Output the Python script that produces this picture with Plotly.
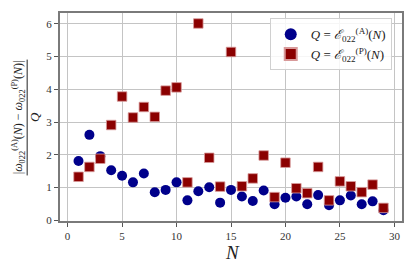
import plotly.graph_objects as go

# ─────────────────────────────────────────────
# 数据：N = 1..29
# ─────────────────────────────────────────────
N = list(range(1, 30))

err_A = [1.81, 2.61, 1.96, 1.53, 1.36, 1.16, 1.43, 0.86, 0.93, 1.16,
         0.61, 0.89, 1.01, 0.54, 0.93, 0.73, 0.59, 0.91, 0.49, 0.69,
         0.73, 0.49, 0.77, 0.46, 0.61, 0.76, 0.49, 0.58, 0.31]

err_P = [1.33, 1.63, 1.88, 2.91, 3.78, 3.14, 3.46, 3.16, 3.96, 4.06,
         1.16, 6.01, 1.91, 1.03, 5.14, 1.04, 1.28, 1.98, 0.71, 1.76,
         0.98, 0.83, 1.63, 0.61, 1.19, 1.04, 0.86, 1.09, 0.38]

x_ticks = [0, 5, 10, 15, 20, 25, 30]
y_ticks = [0, 1, 2, 3, 4, 5, 6]

name_A = "<i>Q</i> = <i>ℰ</i><sub>022</sub><sup>(A)</sup>(<i>N</i>)"
name_P = "<i>Q</i> = <i>ℰ</i><sub>022</sub><sup>(P)</sup>(<i>N</i>)"

SERIF = "Liberation Serif, DejaVu Serif, serif"

fig = go.Figure()

fig.add_trace(go.Scatter(
    x=N, y=err_A, mode='markers', name=name_A,
    marker=dict(symbol='circle', size=10, color='#00008b', line=dict(width=0))
))
fig.add_trace(go.Scatter(
    x=N, y=err_P, mode='markers', name=name_P,
    marker=dict(symbol='square', size=9.5, color='#8b0000',
                line=dict(width=0.8, color='#d89a9a'))
))

axis_style = dict(
    showline=True, mirror=True, linecolor='#7a7a7a', linewidth=2,
    ticks='outside', ticklen=4, tickwidth=1, tickcolor='#555555',
    showgrid=True, gridcolor='#c4c4c4', gridwidth=1, zeroline=False,
    tickfont=dict(family=SERIF, size=11, color='#333333'),
)

fig.update_xaxes(range=[-0.7, 30.7], tickvals=x_ticks, **axis_style)
fig.update_yaxes(range=[-0.02, 6.33], tickvals=y_ticks, **axis_style)

# x 轴标题
fig.add_annotation(
    xref='paper', yref='paper', x=0.505, y=-0.09, yanchor='top', xanchor='center',
    text="<i>N</i>", showarrow=False,
    font=dict(family=SERIF, size=19, color='#222222')
)

# y 轴标题（分式）
fig.add_annotation(
    xref='paper', yref='paper', x=-0.122, y=0.5, textangle=-90,
    xanchor='center', yanchor='middle',
    text="|<i>ω</i><sub>022</sub><sup>(A)</sup>(<i>N</i>) − <i>ω</i><sub>022</sub><sup>(P)</sup>(<i>N</i>)|",
    showarrow=False, font=dict(family=SERIF, size=12, color='#222222')
)
fig.add_shape(type='line', xref='paper', yref='paper',
              x0=-0.096, x1=-0.096, y0=0.219, y1=0.776,
              line=dict(color='#222222', width=1))
fig.add_annotation(
    xref='paper', yref='paper', x=-0.076, y=0.5, textangle=-90,
    xanchor='center', yanchor='middle',
    text="<i>Q</i>", showarrow=False,
    font=dict(family=SERIF, size=13, color='#222222')
)

fig.update_layout(
    width=415, height=270,
    margin=dict(l=60, r=12, t=11, b=49),
    plot_bgcolor='white', paper_bgcolor='white',
    showlegend=True,
    legend=dict(
        x=0.97, y=0.975, xanchor='right', yanchor='top',
        bgcolor='rgba(255,255,255,0.85)', bordercolor='#d0d0d0', borderwidth=1,
        font=dict(family=SERIF, size=13, color='#222222'),
        itemsizing='constant', tracegroupgap=2,
    ),
)

fig.write_html("out.html", config={'displayModeBar': False},
               post_script="document.body.style.margin='0';")
